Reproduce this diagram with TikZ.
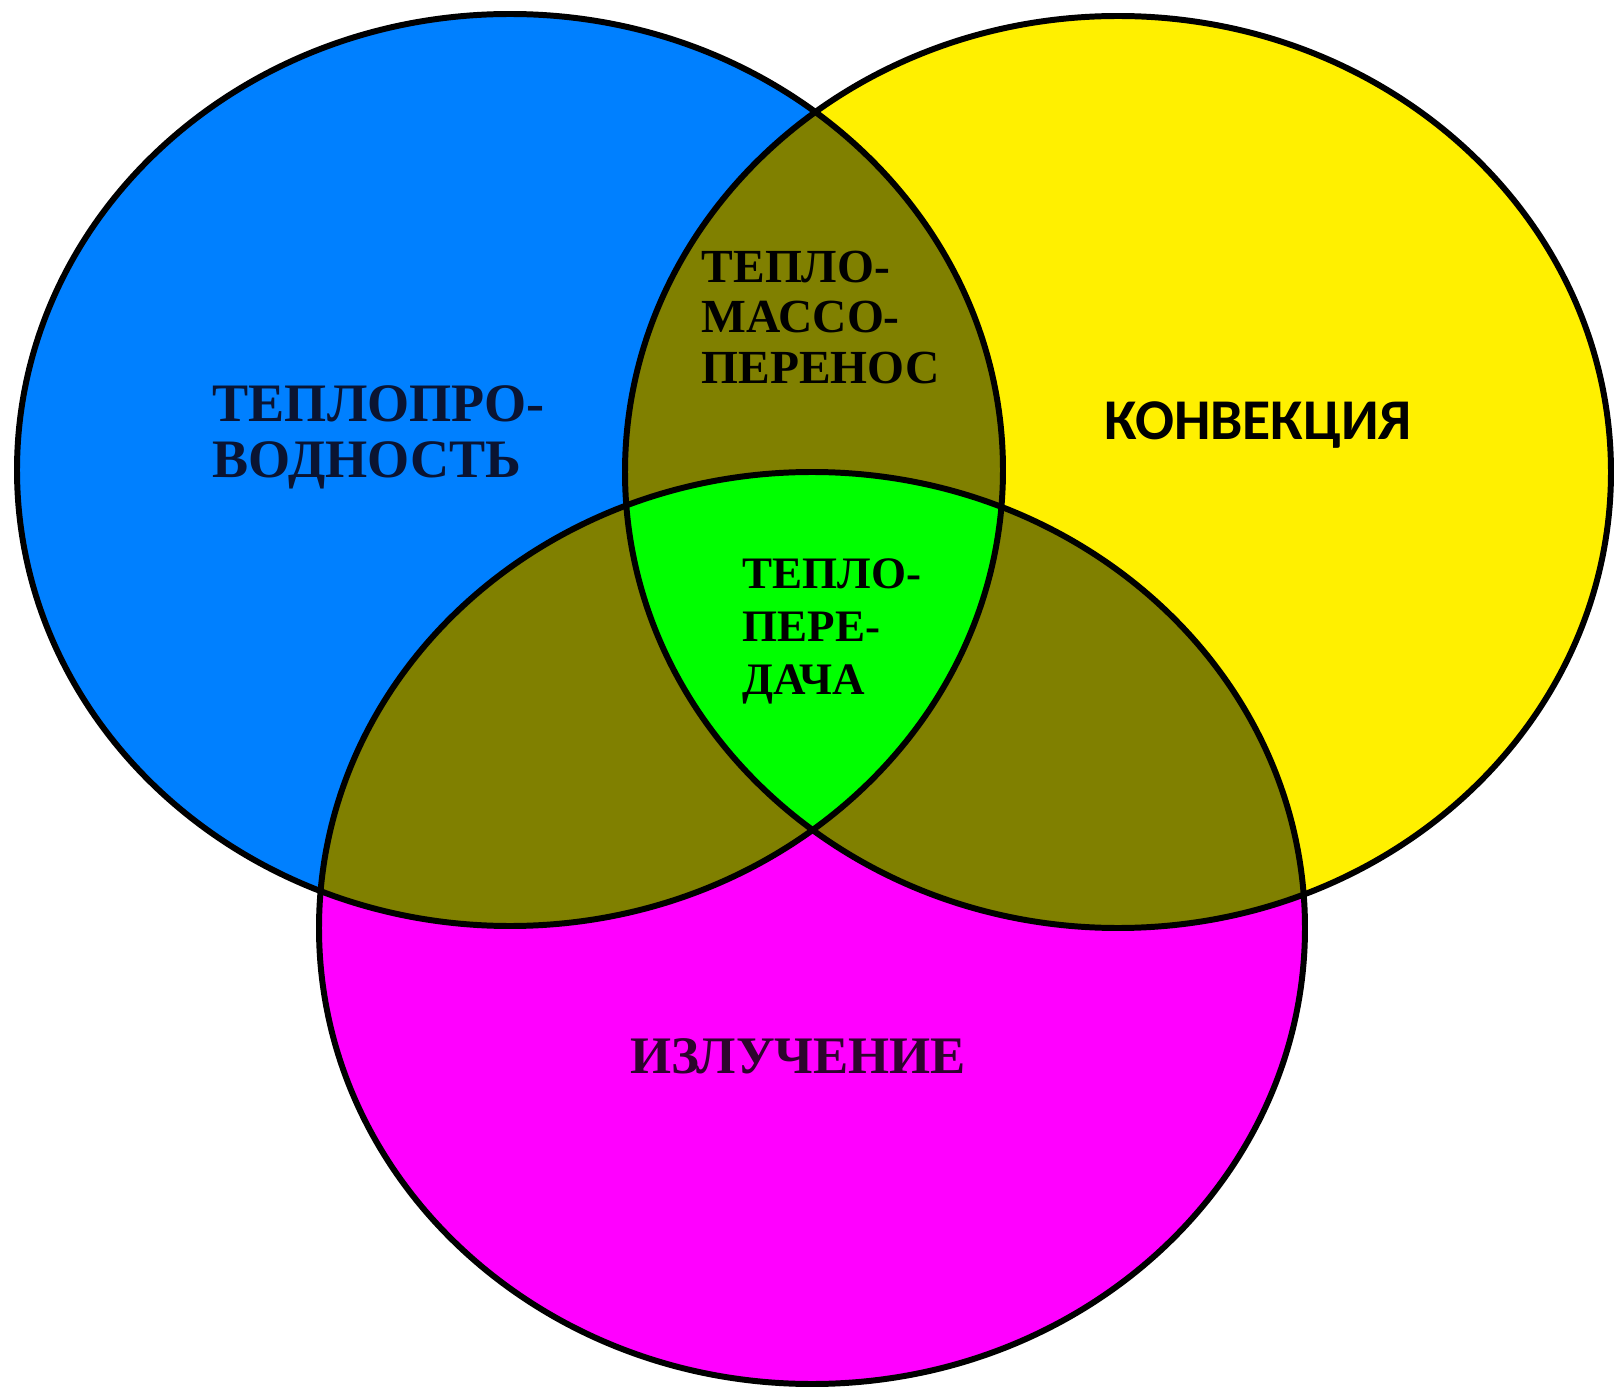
\documentclass[tikz,border=0pt]{standalone}
\usepackage{fontspec}
\setmainfont{Liberation Serif}
\newfontfamily\calibri{Carlito}
\usepackage{tikz}

\definecolor{condblue}{RGB}{0,128,255}
\definecolor{convyellow}{RGB}{255,240,0}
\definecolor{radmagenta}{RGB}{255,0,255}
\definecolor{mixolive}{RGB}{128,128,0}
\definecolor{allgreen}{RGB}{0,255,0}
\definecolor{navytext}{RGB}{10,20,50}
\definecolor{purpletext}{RGB}{45,5,45}

\tikzset{
  venn/.style={x radius=493, y radius=456},
  edge/.style={draw=black, line width=1.7pt},
  serif label/.style={inner sep=0pt, font=\bfseries, align=left}
}

\begin{document}
\begin{tikzpicture}[x=0.01cm, y=-0.01cm]
        % Frame
        \fill[white] (0,0) rectangle (1620,1391);
        \useasboundingbox (0,0) rectangle (1620,1391);

        % Circles
        \coordinate (cond) at (510,470);
        \coordinate (conv) at (1118,472);
        \coordinate (rad) at (812,928);
        \fill[condblue] (cond) ellipse [venn];
        \fill[convyellow] (conv) ellipse [venn];
        \fill[radmagenta] (rad) ellipse [venn];

        % Overlaps
        \begin{scope}
            \clip (cond) ellipse [venn];
            \fill[mixolive] (conv) ellipse [venn];
            \fill[mixolive] (rad) ellipse [venn];
        \end{scope}
        \begin{scope}
            \clip (conv) ellipse [venn];
            \fill[mixolive] (rad) ellipse [venn];
        \end{scope}
        \begin{scope}
            \clip (cond) ellipse [venn];
            \clip (conv) ellipse [venn];
            \fill[allgreen] (rad) ellipse [venn];
        \end{scope}

        % Outlines
        \draw[edge] (cond) ellipse [venn];
        \draw[edge] (conv) ellipse [venn];
        \draw[edge] (rad) ellipse [venn];

        % Labels
        \node (conduction) [serif label, anchor=north west, text=navytext,
            font=\bfseries\fontsize{15.4}{16}\selectfont] at (212,385) {ТЕПЛОПРО-\\ВОДНОСТЬ};
        \node (massflow) [serif label, anchor=north west,
            font=\bfseries\fontsize{13.5}{14.4}\selectfont] at (701,250) {ТЕПЛО-\\МАССО-\\ПЕРЕНОС};
        \node (transfer) [serif label, anchor=north west,
            font=\bfseries\fontsize{12.8}{15}\selectfont] at (742,558) {ТЕПЛО-\\ПЕРЕ-\\ДАЧА};
        \node (convection) [inner sep=0pt, anchor=base,
            font=\calibri\bfseries\fontsize{16.4}{18}\selectfont] at (1258,440) {КОНВЕКЦИЯ};
        \node (radiation) [inner sep=0pt, anchor=base, text=purpletext,
            font=\bfseries\fontsize{15}{16}\selectfont] at (798,1073) {ИЗЛУЧЕНИЕ};
    \end{tikzpicture}
\end{document}
